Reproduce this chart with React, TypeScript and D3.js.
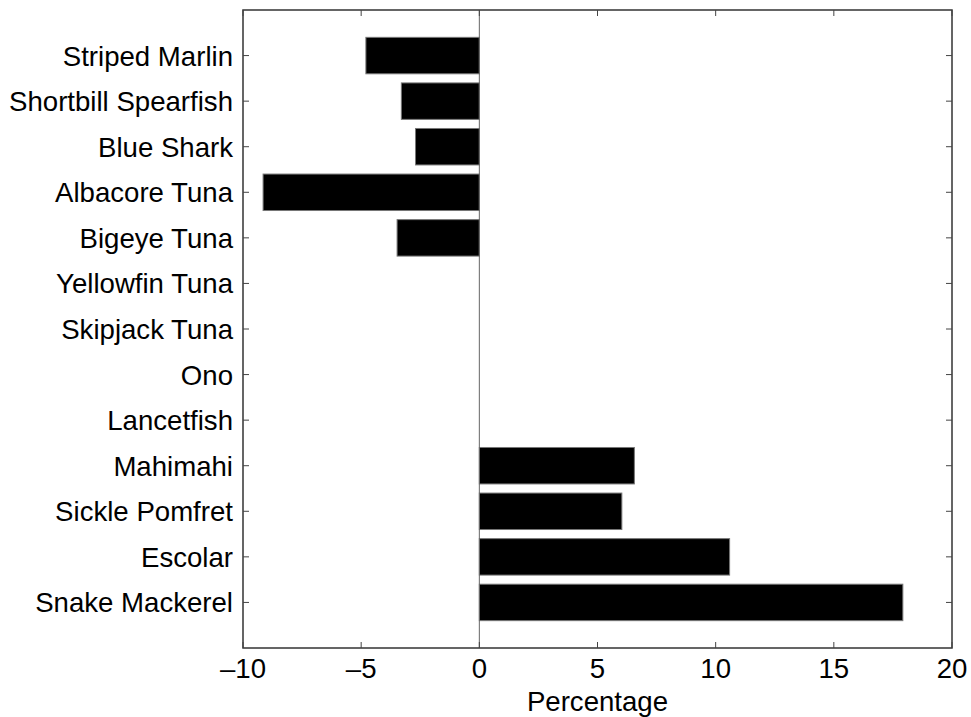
import React, { useEffect, useRef } from 'react';
import * as d3 from 'd3';

// categories from top to bottom
const species = [
  'Striped Marlin',
  'Shortbill Spearfish',
  'Blue Shark',
  'Albacore Tuna',
  'Bigeye Tuna',
  'Yellowfin Tuna',
  'Skipjack Tuna',
  'Ono',
  'Lancetfish',
  'Mahimahi',
  'Sickle Pomfret',
  'Escolar',
  'Snake Mackerel',
];
const percentages = [-4.8, -3.3, -2.7, -9.15, -3.48, 0, 0, 0, 0, 6.56, 6.03, 10.59, 17.92];
const xTicks = [-10, -5, 0, 5, 10, 15, 20];

const App = () => {
  const svgRef = useRef<SVGSVGElement>(null);

  useEffect(() => {
    const svg = d3.select(svgRef.current);
    svg.selectAll('*').remove();

    const W = 971;
    const H = 717;
    const margin = { top: 10, right: 19, bottom: 69, left: 243 };
    const width = W - margin.left - margin.right;
    const height = H - margin.top - margin.bottom;
    const font = '"Liberation Sans", Arial, Helvetica, sans-serif';
    const fontSize = 27.6;

    const g = svg.append('g').attr('transform', `translate(${margin.left},${margin.top})`);

    const x = d3.scaleLinear().domain([-10, 20]).range([0, width]);
    const y = d3.scalePoint<string>().domain(species).range([0, height]).padding(1);
    const step = y.step();
    const barH = step * 0.8;

    const data = species.map((s, i) => ({ s, v: percentages[i] }));

    // bars
    g.selectAll('.bar')
      .data(data.filter((d) => d.v !== 0))
      .enter()
      .append('rect')
      .attr('x', (d) => x(Math.min(0, d.v)))
      .attr('y', (d) => (y(d.s) as number) - barH / 2)
      .attr('width', (d) => Math.abs(x(d.v) - x(0)))
      .attr('height', barH)
      .attr('fill', '#000')
      .attr('stroke', '#777')
      .attr('stroke-width', 1);

    // zero baseline
    g.append('line')
      .attr('x1', x(0))
      .attr('x2', x(0))
      .attr('y1', 0)
      .attr('y2', height)
      .attr('stroke', '#666')
      .attr('stroke-width', 1);

    // frame
    g.append('rect')
      .attr('x', 0)
      .attr('y', 0)
      .attr('width', width)
      .attr('height', height)
      .attr('fill', 'none')
      .attr('stroke', '#333')
      .attr('stroke-width', 1.5);

    const tickLen = 6;
    // x ticks top & bottom
    xTicks.forEach((t) => {
      const px = x(t);
      g.append('line').attr('x1', px).attr('x2', px).attr('y1', height).attr('y2', height - tickLen).attr('stroke', '#444');
      g.append('line').attr('x1', px).attr('x2', px).attr('y1', 0).attr('y2', tickLen).attr('stroke', '#444');
      g.append('text')
        .attr('x', px)
        .attr('y', height + 30)
        .attr('text-anchor', 'middle')
        .attr('font-family', font)
        .attr('font-size', fontSize)
        .attr('fill', '#000')
        .text(t < 0 ? `\u2013${Math.abs(t)}` : `${t}`);
    });

    // y ticks left & right
    species.forEach((s) => {
      const py = y(s) as number;
      g.append('line').attr('x1', 0).attr('x2', tickLen).attr('y1', py).attr('y2', py).attr('stroke', '#444');
      g.append('line').attr('x1', width).attr('x2', width - tickLen).attr('y1', py).attr('y2', py).attr('stroke', '#444');
      g.append('text')
        .attr('x', -10)
        .attr('y', py)
        .attr('dy', '0.36em')
        .attr('text-anchor', 'end')
        .attr('font-family', font)
        .attr('font-size', fontSize)
        .attr('fill', '#000')
        .text(s);
    });

    g.append('text')
      .attr('x', width / 2)
      .attr('y', height + 63)
      .attr('text-anchor', 'middle')
      .attr('font-family', font)
      .attr('font-size', fontSize)
      .attr('fill', '#000')
      .text('Percentage');
  }, []);

  return (
    <div style={{ position: 'absolute', left: 0, top: 0 }}>
      <svg ref={svgRef} width={971} height={717} style={{ display: 'block', background: '#fff' }}></svg>
    </div>
  );
};

export default App;
